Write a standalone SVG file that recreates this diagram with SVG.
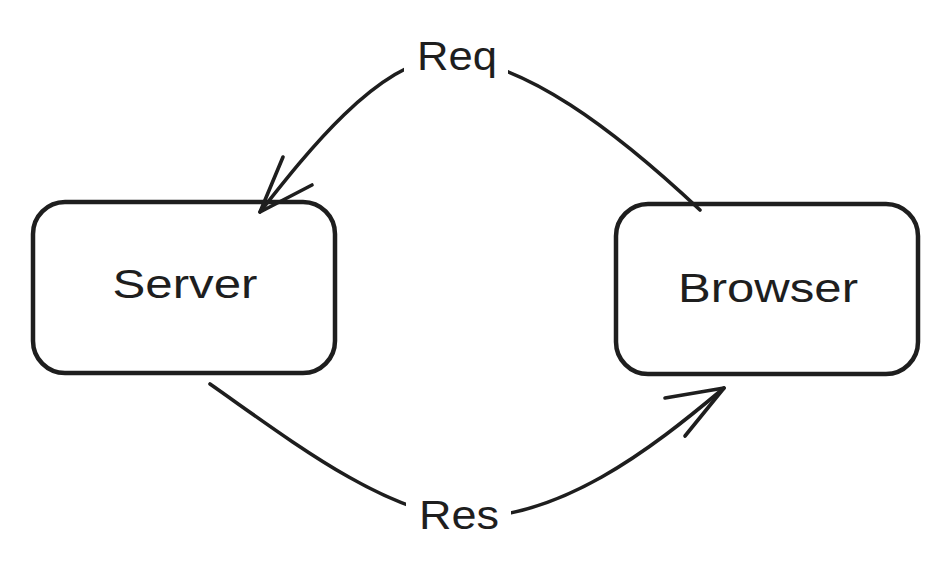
<svg xmlns="http://www.w3.org/2000/svg" width="950" height="586" viewBox="0 0 950 586">
<style>
.box{fill:#ffffff;stroke:#1e1e1e;stroke-width:4.5;stroke-linejoin:round}
.edge{fill:none;stroke:#1e1e1e;stroke-width:3.6;stroke-linecap:round;stroke-linejoin:round}
.lbl{font-family:"Liberation Sans",Arial,sans-serif;font-size:40px;fill:#1e1e1e;text-anchor:middle}
.bg{fill:#ffffff}
</style>
<rect width="950" height="586" fill="#ffffff"/>
<g id="server">
<rect class="box" x="33" y="202" width="302" height="171" rx="32"/>
<text class="lbl" x="185" y="298" textLength="145" lengthAdjust="spacingAndGlyphs">Server</text>
</g>
<g id="browser">
<rect class="box" x="616" y="204" width="302" height="170" rx="32"/>
<text class="lbl" x="768" y="302" textLength="180" lengthAdjust="spacingAndGlyphs">Browser</text>
</g>
<g id="connectors">
<g id="req">
<path class="edge" d="M700,210 C620,135 520,55 440,58 C375,65 305,155 260,212"/>
<path class="edge" d="M283,157 L260,212 L312,185"/>
<rect class="bg" x="404" y="30" width="104" height="56"/>
<text class="lbl" x="457" y="70" textLength="80" lengthAdjust="spacingAndGlyphs">Req</text>
</g>
<g id="res">
<path class="edge" d="M210,384 C290,440 380,510 460,518 C560,520 650,450 724,388"/>
<path class="edge" d="M665,398 L724,388 L685,436"/>
<rect class="bg" x="406" y="488" width="105" height="56"/>
<text class="lbl" x="459" y="529" textLength="80" lengthAdjust="spacingAndGlyphs">Res</text>
</g>
</g>
</svg>
